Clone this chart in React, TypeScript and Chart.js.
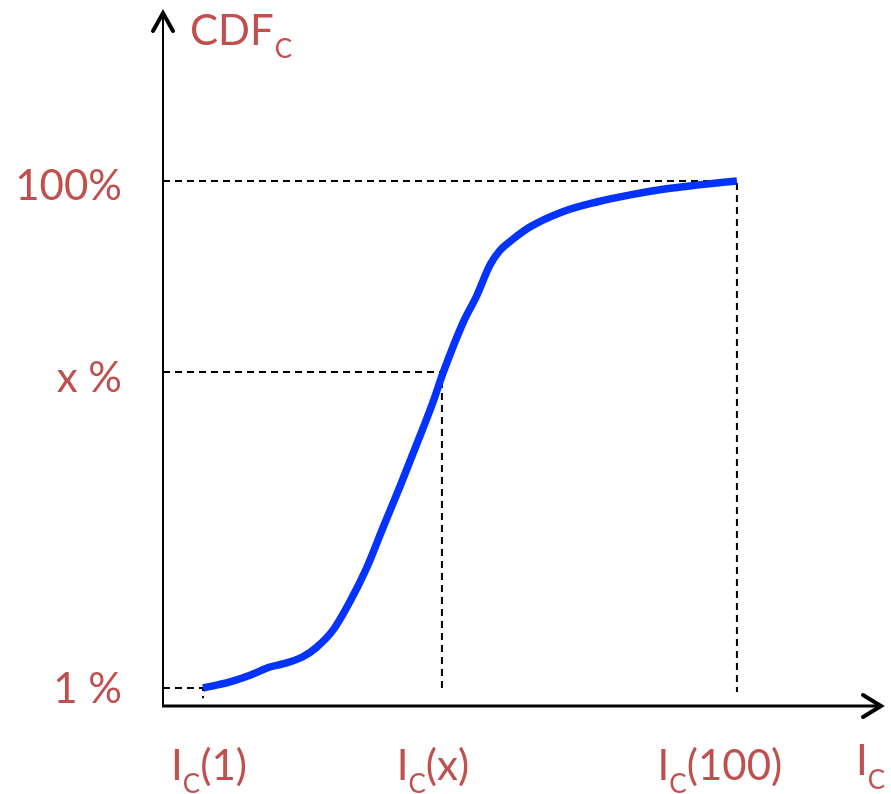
import React, { useEffect, useRef } from "react";
import { Chart, registerables } from "chart.js";

Chart.register(...registerables);

// Curve (x in I_C units, y in CDF %)
const curveX = [1, 6.0, 9.7, 13.4, 15.8, 19.5, 22.1, 25.1, 28.3, 31.4, 34.4, 37.5, 40.7, 43.6, 45.5, 49.2, 51.8, 54.2, 56.1, 58.3, 61.6, 67.7, 74.0, 80.2, 86.3, 92.6, 100];
const curveY = [1, 2.2, 3.5, 5.1, 5.7, 7.1, 9.0, 12.3, 18.0, 24.6, 32.4, 40.3, 48.8, 56.7, 62.5, 72.3, 77.7, 83.6, 86.5, 88.5, 91.0, 94.0, 95.9, 97.3, 98.4, 99.2, 100];

// Guide lines
const guideX = [1, 45.3, 100];
const guideY = [1, 62.7, 100];
const guideFoot = [-1, 1, 0.2];

// Tick labels
const yTickLabels = ["1 %", "x %", "100%"];
const xTickMain = "I";
const xTickSub = "C";
const xTickRest = ["(1)", "(x)", "(100)"];
const yTitle = ["CDF", "C"];
const xTitle = ["I", "C"];

// Axis ranges
const X_MIN = -6.42;
const X_MAX = 126.9;
const Y_MIN = -2.51;
const Y_MAX = 133.0;

const RED = "#C0504D";
const FONT = "Lato";

export default function App() {
  const ref = useRef<HTMLCanvasElement | null>(null);

  useEffect(() => {
    document.body.style.margin = "0";
    const canvas = ref.current;
    if (!canvas) return;

    const curve = curveX.map((x, i) => ({ x, y: curveY[i] }));
    const guides = guideX.map((gx, i) => ({
      type: "line" as const,
      data: [
        { x: X_MIN, y: guideY[i] },
        { x: gx, y: guideY[i] },
        { x: gx, y: guideFoot[i] },
      ],
      borderColor: "#000",
      borderWidth: 2,
      borderDash: [7, 5],
      pointRadius: 0,
      tension: 0,
      fill: false,
      order: 2,
    }));

    const axesPlugin = {
      id: "axesPlugin",
      beforeDatasetsDraw(chart: any) {
        const { ctx, chartArea } = chart;
        const { left, right, top, bottom } = chartArea;
        ctx.save();
        ctx.strokeStyle = "#000";
        ctx.lineCap = "butt";
        // y axis
        ctx.lineWidth = 2;
        ctx.beginPath();
        ctx.moveTo(left, bottom);
        ctx.lineTo(left, top + 2);
        ctx.stroke();
        // x axis
        ctx.lineWidth = 3;
        ctx.beginPath();
        ctx.moveTo(left - 1, bottom);
        ctx.lineTo(right - 2, bottom);
        ctx.stroke();
        // arrows
        ctx.lineWidth = 4;
        ctx.lineCap = "round";
        ctx.lineJoin = "miter";
        ctx.beginPath();
        ctx.moveTo(left - 10, top + 19);
        ctx.lineTo(left, top + 1);
        ctx.lineTo(left + 10, top + 19);
        ctx.stroke();
        ctx.beginPath();
        ctx.moveTo(right - 19, bottom - 11);
        ctx.lineTo(right - 1, bottom);
        ctx.lineTo(right - 19, bottom + 11);
        ctx.stroke();
        ctx.restore();
      },
      afterDraw(chart: any) {
        const { ctx } = chart;
        const xs = chart.scales.x;
        const ys = chart.scales.y;
        const main = `42px ${FONT}`;
        const sub = `26px ${FONT}`;
        ctx.save();
        ctx.fillStyle = RED;
        ctx.textBaseline = "alphabetic";

        // y tick labels
        ctx.font = main;
        ctx.textAlign = "right";
        const yShift = [15, 20, 19];
        guideY.forEach((v, i) => {
          ctx.fillText(yTickLabels[i], 122, ys.getPixelForValue(v) + yShift[i]);
        });

        // x tick labels
        ctx.textAlign = "left";
        const xShift = [6, -9, -17];
        const baseY = 780;
        guideX.forEach((v, i) => {
          ctx.font = main;
          const wI = ctx.measureText(xTickMain).width;
          const wR = ctx.measureText(xTickRest[i]).width;
          ctx.font = sub;
          const wS = ctx.measureText(xTickSub).width;
          const total = wI + wS + wR;
          const x0 = xs.getPixelForValue(v) + xShift[i] - total / 2;
          ctx.font = main;
          ctx.fillText(xTickMain, x0, baseY);
          ctx.font = sub;
          ctx.fillText(xTickSub, x0 + wI, baseY + 13);
          ctx.font = main;
          ctx.fillText(xTickRest[i], x0 + wI + wS, baseY);
        });

        // x axis title
        ctx.font = main;
        const wT = ctx.measureText(xTitle[0]).width;
        ctx.fillText(xTitle[0], 856, 775);
        ctx.font = sub;
        ctx.fillText(xTitle[1], 856 + wT, 789);

        // y axis title
        ctx.font = main;
        const wC = ctx.measureText(yTitle[0]).width;
        ctx.fillText(yTitle[0], 190, 45);
        ctx.font = sub;
        ctx.fillText(yTitle[1], 190 + wC + 1, 58);
        ctx.restore();
      },
    };

    const chart = new Chart(canvas, {
      type: "line",
      data: {
        datasets: [
          {
            data: curve,
            borderColor: "#0433FF",
            borderWidth: 7.5,
            pointRadius: 0,
            cubicInterpolationMode: "monotone",
            fill: false,
            order: 0,
            borderCapStyle: "butt",
          } as any,
          ...(guides as any[]),
        ],
      },
      options: {
        animation: false,
        responsive: false,
        maintainAspectRatio: false,
        layout: { padding: { left: 163, right: 9, top: 12, bottom: 88 } },
        plugins: {
          legend: { display: false },
          tooltip: { enabled: false },
          title: { display: false },
        },
        scales: {
          x: { type: "linear", min: X_MIN, max: X_MAX, display: false },
          y: { type: "linear", min: Y_MIN, max: Y_MAX, display: false },
        },
      },
      plugins: [axesPlugin],
    });

    return () => chart.destroy();
  }, []);

  return (
    <div style={{ width: 891, height: 794, background: "#fff" }}>
      <canvas ref={ref} width={891} height={794} style={{ width: 891, height: 794, display: "block" }} />
    </div>
  );
}
